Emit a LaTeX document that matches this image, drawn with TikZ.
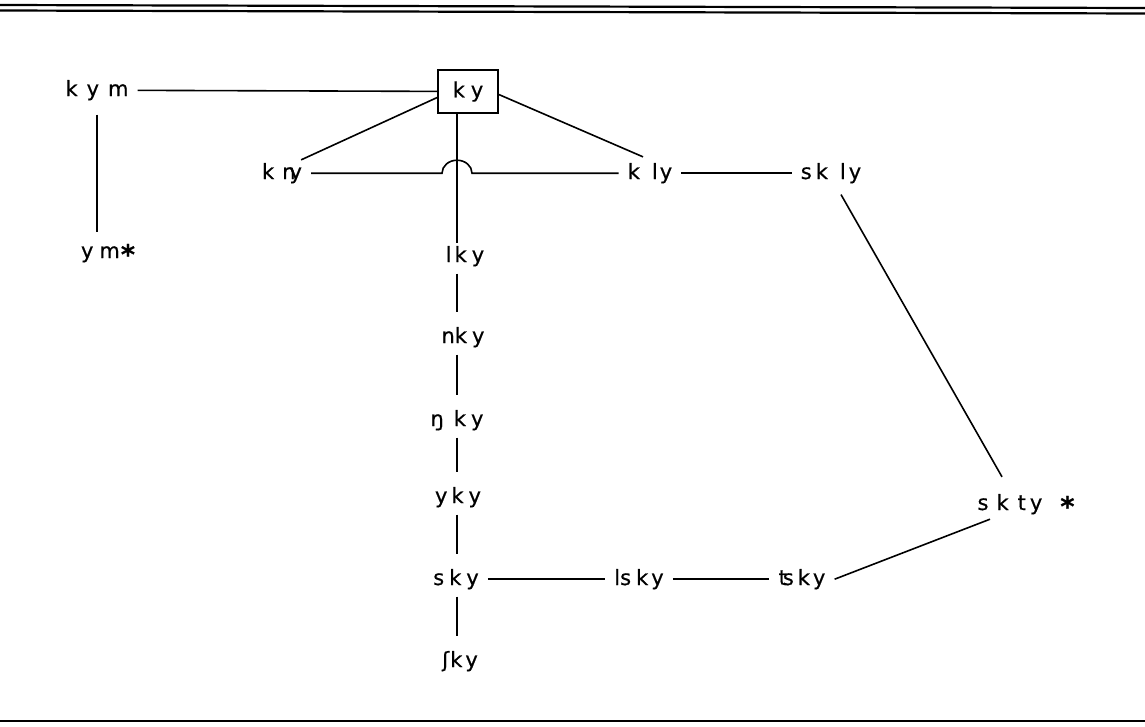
\documentclass[tikz,border=0pt]{standalone}
\usepackage{fontspec}
\setmainfont{DejaVu Sans}
\newfontfamily\lblfont{DejaVu Sans}[FakeBold=0.6]
\usetikzlibrary{calc}
\newcommand\K[1]{\kern#1pt\relax}
\newcommand\bigstar{{\fontsize{27}{30}\selectfont\bfseries\raisebox{-6pt}{*}}}
\begin{document}
\begin{tikzpicture}[x=1pt,y=-1pt,
  lbl/.style={inner xsep=9pt, inner ysep=3pt, anchor=base, font=\lblfont\fontsize{21}{25}\selectfont},
  boxed/.style={draw, line width=1.6pt, minimum width=60pt, minimum height=43pt, inner sep=0pt, font=\lblfont\fontsize{21}{25}\selectfont},
  con/.style={line width=1.6pt},
  chainline/.style={con, shorten <=4pt, shorten >=12pt},
  rule/.style={line width=2.2pt}]
\useasboundingbox (0,0) rectangle (1145,726);
% rules
\draw[rule] (0,5) -- (1145,8);
\draw[rule] (0,10.5) -- (1145,13.5);
\draw[line width=2.6pt] (0,721) -- (1145,721);
\coordinate (spine) at (457,0);
% nodes
\node[lbl] (kym) at (97,96) {k\K{9}y\K{9}m};
\node[boxed] (ky) at (468,91.5) {k\K{6}y};
\node[lbl] (kny) at (282,179) {k\K{8}n\K{-6}y};
\node[lbl] (kly) at (650,179) {k\K{12}l\K{2}y};
\node[lbl] (skly) at (831,179) {s\K{4}k\K{12}l\K{3}y};
\node[lbl] (ym) at (108,258) {y\K{6}m\K{1}\bigstar};
\node[lbl] (lky) at (465,262) {l\K{3}k\K{5}y};
\node[lbl] (nky) at (463,343) {nk\K{5}y};
\node[lbl] (engky) at (457,426) {ŋ\K{10}k\K{5}y};
\node[lbl] (yky) at (458,503) {y\K{4}k\K{5}y};
\node[lbl] (sky) at (456,585) {s\K{5}k\K{5}y};
\node[lbl] (eshky) at (460,667) {ʃ\K{1}k\K{3}y};
\node[lbl] (lsky) at (639,585) {ls\K{5}k\K{3}y};
\node[lbl] (tsky) at (802,585) {t\K{-4}s\K{4}k\K{3}y};
\node[lbl] (skty) at (1026,510) {s\K{8}k\K{9}t\K{4}y\K{18}\bigstar};
% connectors
\draw[con] (kym) -- (ky);
\draw[con, shorten <=11pt, shorten >=9pt] (kym.south) -- (kym.south |- ym.north);
\draw[con] ($(kny.north east)+(-10,0)$) -- ($(ky.west)+(0,6)$);
\draw[con] ($(ky.east)+(0,3)$) -- ($(kly.north)+(-7,-3)$);
\draw[con] (ky.south -| spine) -- (lky.north -| spine);
\draw[con] (kny.east) -- ($(spine |- kny.east)+(-15,0)$)
  arc[start angle=180, end angle=0, x radius=15pt, y radius=13pt]
  -- (kny.east -| kly.west);
\draw[con] (kly) -- (skly);
\draw[con] ($(skly.south)+(10,8)$) -- ($(skty.north)+(-24,-14)$);
\draw[con] ($(skty.south)+(-36,0)$) -- (tsky.east);
\draw[con] (sky) -- (lsky);
\draw[con] (lsky) -- (tsky);
\draw[chainline] (lky.south -| spine) -- (nky.north -| spine);
\draw[chainline] (nky.south -| spine) -- (engky.north -| spine);
\draw[chainline] (engky.south -| spine) -- (yky.north -| spine);
\draw[chainline] (yky.south -| spine) -- (sky.north -| spine);
\draw[chainline] (sky.south -| spine) -- (eshky.north -| spine);
\end{tikzpicture}
\end{document}
